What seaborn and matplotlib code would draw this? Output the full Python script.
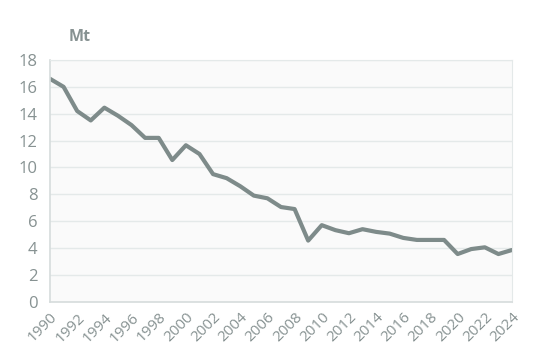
import numpy as np
import pandas as pd
import matplotlib
matplotlib.use("Agg")
import matplotlib.pyplot as plt
import seaborn as sns

# Emissions in Mt, 1990-2024
years = list(range(1990, 2025))
values = [16.6, 16.0, 14.2, 13.5, 14.45, 13.85, 13.15, 12.2, 12.2, 10.55,
          11.65, 11.0, 9.5, 9.2, 8.6, 7.9, 7.7, 7.05, 6.9, 4.55,
          5.7, 5.33, 5.1, 5.4, 5.2, 5.07, 4.75, 4.6, 4.6, 4.6,
          3.55, 3.92, 4.05, 3.55, 3.85]
y_ticks = [0, 2, 4, 6, 8, 10, 12, 14, 16, 18]
x_ticks = list(range(1990, 2025, 2))
unit_label = "Mt"

df = pd.DataFrame({"year": years, "value": values})

sns.set_style("white")
plt.rcParams["font.family"] = ["Open Sans", "DejaVu Sans"]

line_color = "#7e8b8a"
text_color = "#879292"

fig = plt.figure(figsize=(5.5, 3.56), dpi=100)
ax = fig.add_axes([50 / 550, 1 - 301.7 / 356, 462 / 550, 241.7 / 356])
ax.set_facecolor("#fafafa")

sns.lineplot(data=df, x="year", y="value", ax=ax, color=line_color, linewidth=3.0)

ax.set_xlim(1990, 2024)
ax.set_ylim(0, 18)
ax.set_yticks(y_ticks)
ax.set_xticks(x_ticks)
ax.set_xticklabels([str(y) for y in x_ticks], rotation=45, ha="right",
                   rotation_mode="anchor", fontsize=11)
ax.set_yticklabels([str(v) for v in y_ticks], fontsize=12)
ax.grid(axis="y", color="#e4e9e9", linewidth=1)
ax.set_axisbelow(True)
ax.tick_params(axis="both", length=0, colors=text_color)
ax.tick_params(axis="y", pad=9)
ax.tick_params(axis="x", pad=6)
ax.set_xlabel("")
ax.set_ylabel("")

for side in ["top", "right"]:
    ax.spines[side].set_color("#e4e9e9")
    ax.spines[side].set_linewidth(0.8)
for side in ["left", "bottom"]:
    ax.spines[side].set_color("#d6dcdc")
    ax.spines[side].set_linewidth(1.2)

fig.text(80 / 550, 1 - 37 / 356, unit_label, ha="center", va="center",
         fontsize=11.5, fontweight="bold", color=text_color)

fig.savefig("out.png", dpi=100, facecolor="white")
